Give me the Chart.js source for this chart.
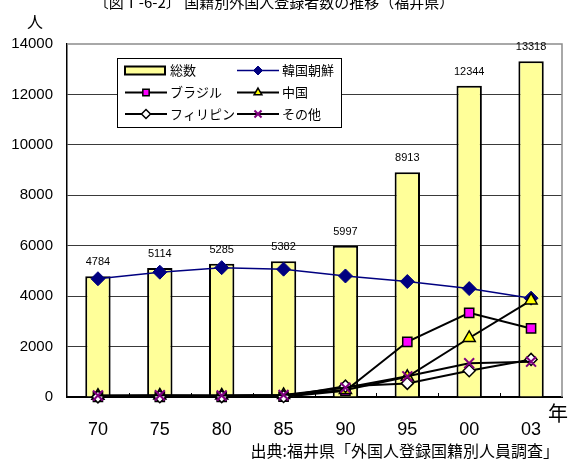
<!DOCTYPE html>
<html>
<head>
<meta charset="utf-8">
<script src="https://cdn.jsdelivr.net/npm/chart.js@4.4.1/dist/chart.umd.min.js"></script>
<style>
  html, body { margin: 0; padding: 0; background: #fff; }
  #wrap { position: relative; width: 571px; height: 463px; }
</style>
</head>
<body>
<div id="wrap"><canvas id="c" width="571" height="463"></canvas></div>
<script>
// 福井県の国籍別外国人登録者数（人）
const years       = ['70', '75', '80', '85', '90', '95', '00', '03'];
const total       = [4784, 5114, 5285, 5382, 5997, 8913, 12344, 13318];
const korea       = [4690, 4950, 5130, 5070, 4800, 4580, 4300, 3920];
const brazil      = [5, 5, 5, 10, 250, 2190, 3340, 2720];
const china       = [50, 60, 60, 80, 280, 800, 2340, 3830];
const philippines = [5, 10, 15, 20, 430, 540, 1040, 1490];
const others      = [60, 70, 60, 80, 370, 820, 1340, 1400];
const yTicks      = [0, 2000, 4000, 6000, 8000, 10000, 12000, 14000];

const seriesNames = ['総数', '韓国朝鮮', 'ブラジル', '中国', 'フィリピン', 'その他'];

const LATIN = '"Liberation Sans", Arial, sans-serif';
const CJK = '"Noto Sans CJK JP", "Noto Sans", sans-serif';

function lineSeries(label, data, opts) {
  return Object.assign({
    type: 'line',
    label: label,
    data: data,
    borderColor: '#000',
    borderWidth: 2,
    pointBorderColor: '#000',
    pointBorderWidth: 1.5,
    pointRadius: 6,
    pointHoverRadius: 6,
    tension: 0,
    clip: false
  }, opts);
}

// Annotations: bar value labels, plot frame, inner ticks, legend, captions
const decor = {
  id: 'decor',
  beforeDatasetsDraw(chart) {
    const ctx = chart.ctx;
    const a = chart.chartArea;
    const xs = chart.scales.x;
    ctx.save();
    // light frame on the top and right edges of the plot
    ctx.strokeStyle = '#8c8c8c';
    ctx.lineWidth = 1.5;
    ctx.beginPath();
    ctx.moveTo(a.left, a.top);
    ctx.lineTo(a.right, a.top);
    ctx.lineTo(a.right, a.bottom);
    ctx.stroke();
    // short inner tick marks between categories
    ctx.strokeStyle = '#000';
    ctx.lineWidth = 1;
    for (let i = 0; i < years.length - 1; i++) {
      const x = Math.round((xs.getPixelForValue(i) + xs.getPixelForValue(i + 1)) / 2) + 0.5;
      ctx.beginPath();
      ctx.moveTo(x, a.bottom);
      ctx.lineTo(x, a.bottom - 4);
      ctx.stroke();
    }
    ctx.restore();
  },
  afterDatasetsDraw(chart) {
    const ctx = chart.ctx;
    ctx.save();
    // value labels above the bars
    const meta = chart.getDatasetMeta(0);
    ctx.font = '11px ' + LATIN;
    ctx.fillStyle = '#000';
    ctx.textAlign = 'center';
    ctx.textBaseline = 'middle';
    meta.data.forEach((bar, i) => {
      ctx.fillText(String(total[i]), bar.x, bar.y - 14);
    });

    // legend box
    const bx = 117, by = 58, bw = 224, bh = 69;
    ctx.fillStyle = '#fff';
    ctx.fillRect(bx, by, bw, bh);
    ctx.strokeStyle = '#000';
    ctx.lineWidth = 1;
    ctx.strokeRect(bx + 0.5, by + 0.5, bw, bh);

    const rows = [70.5, 92.5, 114];
    const cols = [125, 237];
    const sets = chart.data.datasets;
    sets.forEach((ds, i) => {
      const sx = cols[i % 2];
      const y = rows[Math.floor(i / 2)];
      if (ds.type === 'bar' || !ds.type) {
        ctx.fillStyle = ds.backgroundColor;
        ctx.strokeStyle = ds.borderColor;
        ctx.lineWidth = 2;
        ctx.fillRect(sx, y - 4, 40, 8);
        ctx.strokeRect(sx, y - 4, 40, 8);
      } else {
        ctx.strokeStyle = ds.borderColor;
        ctx.lineWidth = ds.borderWidth;
        ctx.beginPath();
        ctx.moveTo(sx, y);
        ctx.lineTo(sx + 42, y);
        ctx.stroke();
        ctx.fillStyle = ds.pointBackgroundColor;
        ctx.strokeStyle = ds.pointBorderColor;
        ctx.lineWidth = ds.pointBorderWidth;
        Chart.helpers.drawPoint(ctx, {
          pointStyle: ds.pointStyle,
          radius: ds.pointStyle === 'crossRot' ? 5 : 4.5,
          rotation: 0,
          borderWidth: ds.pointBorderWidth
        }, sx + 21, y);
      }
      ctx.fillStyle = '#000';
      ctx.font = '13px ' + CJK;
      ctx.textAlign = 'left';
      ctx.textBaseline = 'middle';
      ctx.fillText(ds.label, sx + 45, y);
    });
    ctx.restore();
  },
  afterDraw(chart) {
    const ctx = chart.ctx;
    ctx.save();
    ctx.fillStyle = '#000';
    // heading (runs off the top edge)
    ctx.font = '15px ' + CJK;
    ctx.textAlign = 'center';
    ctx.textBaseline = 'alphabetic';
    ctx.fillText('〔図Ⅰ-6-2〕 国籍別外国人登録者数の推移（福井県）', 274, 8);
    // axis units
    ctx.font = '16px ' + CJK;
    ctx.textBaseline = 'middle';
    ctx.fillText('人', 35, 22);
    ctx.font = '20px ' + CJK;
    ctx.fillText('年', 558, 413);
    // source
    ctx.font = '16px ' + CJK;
    ctx.textAlign = 'right';
    ctx.fillText('出典:福井県「外国人登録国籍別人員調査」', 559, 451);
    ctx.restore();
  }
};

new Chart(document.getElementById('c'), {
  type: 'bar',
  data: {
    labels: years,
    datasets: [
      {
        type: 'bar',
        label: seriesNames[0],
        data: total,
        backgroundColor: '#FFFF99',
        borderColor: '#000',
        borderWidth: 2,
        barPercentage: 0.41,
        categoryPercentage: 1.0,
        order: 6
      },
      lineSeries(seriesNames[1], korea, {
        borderColor: '#000080', borderWidth: 1.5,
        pointStyle: 'rectRot', pointBackgroundColor: '#000080',
        pointBorderColor: '#000080', pointBorderWidth: 1, pointRadius: 7, order: 5
      }),
      lineSeries(seriesNames[2], brazil, {
        pointStyle: 'rect', pointBackgroundColor: '#FF00FF', pointRadius: 6.5, order: 4
      }),
      lineSeries(seriesNames[3], china, {
        pointStyle: 'triangle', pointBackgroundColor: '#FFFF00', pointRadius: 7, order: 3
      }),
      lineSeries(seriesNames[4], philippines, {
        pointStyle: 'rectRot', pointBackgroundColor: '#FFFFFF', pointRadius: 6, order: 2
      }),
      lineSeries(seriesNames[5], others, {
        pointStyle: 'crossRot', pointBackgroundColor: '#800080',
        pointBorderColor: '#800080', pointBorderWidth: 2, pointRadius: 7, order: 1
      })
    ]
  },
  options: {
    responsive: false,
    animation: false,
    devicePixelRatio: 1,
    layout: { padding: { left: 0, right: 8, top: 44, bottom: 0 } },
    plugins: {
      legend: { display: false },
      tooltip: { enabled: false },
      title: { display: false }
    },
    scales: {
      x: {
        type: 'category',
        offset: true,
        grid: { display: false },
        border: { display: true, color: '#000', width: 2 },
        ticks: {
          color: '#000',
          font: { family: LATIN, size: 18 },
          padding: 14,
          maxRotation: 0,
          autoSkip: false
        },
        afterFit(scale) { scale.height = 66; }
      },
      y: {
        min: 0,
        max: 14000,
        afterBuildTicks(scale) { scale.ticks = yTicks.map(v => ({ value: v })); },
        grid: {
          color: ctx => (ctx.tick && ctx.tick.value === 14000) ? 'rgba(0,0,0,0)' : '#3a3a3a',
          lineWidth: 1,
          drawTicks: false
        },
        border: { display: true, color: '#000', width: 1.5 },
        ticks: {
          color: '#000',
          font: { family: LATIN, size: 15 },
          padding: 14,
          callback: v => String(v)
        },
        afterFit(scale) { scale.width = 67; }
      }
    }
  },
  plugins: [decor]
});
</script>
</body>
</html>
